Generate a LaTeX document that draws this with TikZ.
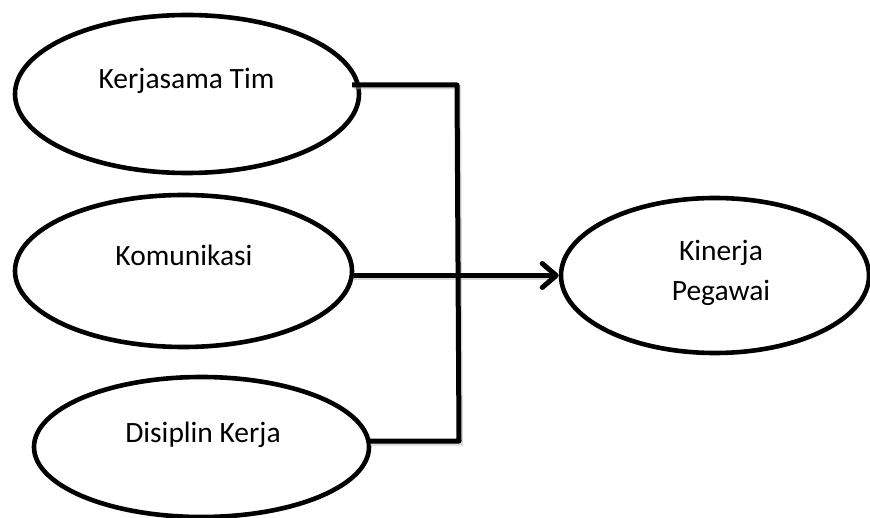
\documentclass[tikz,border=0pt]{standalone}
\usepackage{fontspec}
\setmainfont{Carlito}
\usetikzlibrary{arrows.meta,shapes.geometric}
\begin{document}
\begin{tikzpicture}[x=1pt,y=-1pt,
  ell/.style={draw=black, line width=4.6pt, ellipse, inner sep=0pt},
  lbl/.style={font=\fontsize{29.5}{40}\selectfont, anchor=base, inner sep=0pt},
  conn/.style={draw=black, line width=5pt, line join=round},
  shade/.style={draw=black!30, line width=4pt, opacity=0.5},
  arr/.style={conn, -{Straight Barb[length=14pt,width=24pt,line cap=round,line join=round]}}]
\useasboundingbox (0,0) rectangle (870,518);
% ellipses
\node[ell, minimum width=344pt, minimum height=158pt] (kt) at (187,94) {};
\node[ell, minimum width=337pt, minimum height=152pt] (km) at (183.5,271) {};
\node[ell, minimum width=335pt, minimum height=140pt] (kd) at (201.5,447) {};
\node[ell, minimum width=308pt, minimum height=155pt] (kp) at (715,275.5) {};
% labels
\node[lbl] (tkt) at (186.5,89) {Kerjasama Tim};
\node[lbl] (tkm) at (184,266) {Komunikasi};
\node[lbl] (tkd) at (203,442) {Disiplin Kerja};
\node[lbl] (tkp1) at (721,261) {Kinerja};
\node[lbl] (tkp2) at (721,301) {Pegawai};
% connector coordinates
\coordinate (s1) at (352,85);
\coordinate (j1) at (457,85);
\coordinate (j2) at (459,441);
\coordinate (e3) at (368,441);
% shadows
\draw[shade] ([shift={(2,2.5)}]s1) -- ([shift={(2,2.5)}]j1) -- ([shift={(2,2.5)}]j2) -- ([shift={(2,2.5)}]e3);
\draw[shade] ([shift={(0,2.5)}]km.east |- kp.west) -- ([shift={(-8,2.5)}]kp.west);
% connectors
\draw[conn] (s1) -- (j1) -- (j2) -- (e3);
\draw[arr] (km.east |- kp.west) -- (kp.west);
\end{tikzpicture}
\end{document}
